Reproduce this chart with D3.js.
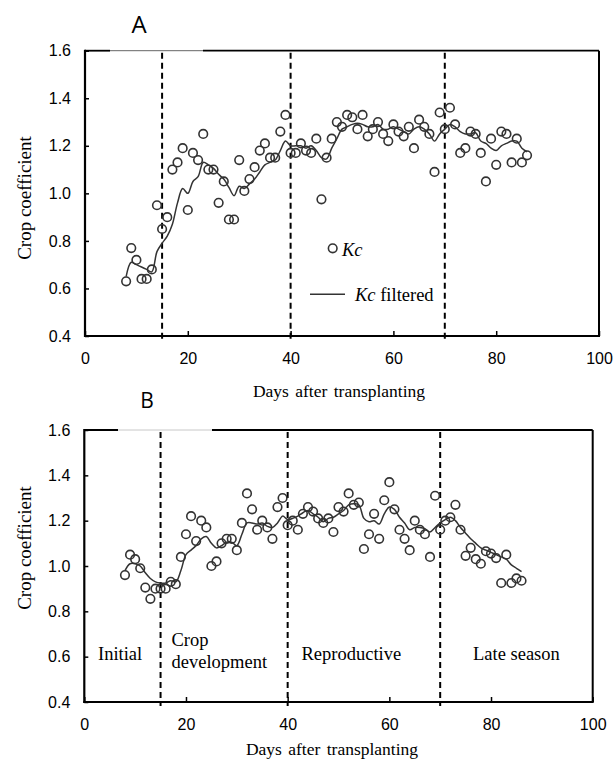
<!DOCTYPE html>
<html>
<head>
<meta charset="utf-8">
<script src="https://cdn.jsdelivr.net/npm/d3@7"></script>
<style>
  body { margin: 0; background: #fff; }
  .tick text { font-family: "Liberation Sans", Arial, sans-serif; font-size: 16px; fill: #000; }
  .serif { font-family: "Liberation Serif", "Times New Roman", serif; fill: #000; }
</style>
</head>
<body>
<div id="chart-container"></div>
<script>
// Days after transplanting (same for both panels)
var days = [8, 9, 10, 11, 12, 13, 14, 15, 16, 17,
            18, 19, 20, 21, 22, 23, 24, 25, 26, 27,
            28, 29, 30, 31, 32, 33, 34, 35, 36, 37,
            38, 39, 40, 41, 42, 43, 44, 45, 46, 47,
            48, 49, 50, 51, 52, 53, 54, 55, 56, 57,
            58, 59, 60, 61, 62, 63, 64, 65, 66, 67,
            68, 69, 70, 71, 72, 73, 74, 75, 76, 77,
            78, 79, 80, 81, 82, 83, 84, 85, 86];

// Panel A
var kcA = [0.63, 0.77, 0.72, 0.64, 0.64, 0.68, 0.95, 0.85, 0.90, 1.10,
           1.13, 1.19, 0.93, 1.17, 1.14, 1.25, 1.10, 1.10, 0.96, 1.05,
           0.89, 0.89, 1.14, 1.01, 1.06, 1.11, 1.18, 1.21, 1.15, 1.15,
           1.26, 1.33, 1.17, 1.17, 1.21, 1.18, 1.17, 1.23, 0.975, 1.15,
           1.23, 1.30, 1.28, 1.33, 1.32, 1.27, 1.33, 1.24, 1.27, 1.30,
           1.25, 1.22, 1.29, 1.26, 1.24, 1.28, 1.19, 1.31, 1.28, 1.25,
           1.09, 1.34, 1.27, 1.36, 1.29, 1.17, 1.19, 1.26, 1.25, 1.17,
           1.05, 1.23, 1.12, 1.26, 1.25, 1.13, 1.23, 1.13, 1.16];
var filtA = [0.65, 0.71, 0.70, 0.69, 0.68, 0.67, 0.755, 0.79, 0.82, 0.87,
             0.96, 1.02, 1.00, 1.05, 1.07, 1.13, 1.12, 1.105, 1.08, 1.06,
             1.025, 0.99, 1.03, 1.02, 1.04, 1.06, 1.09, 1.12, 1.13, 1.14,
             1.18, 1.22, 1.20, 1.20, 1.20, 1.19, 1.20, 1.18, 1.15, 1.145,
             1.19, 1.23, 1.27, 1.28, 1.29, 1.295, 1.29, 1.28, 1.28, 1.29,
             1.27, 1.27, 1.28, 1.27, 1.26, 1.25, 1.27, 1.28, 1.27, 1.25,
             1.22, 1.25, 1.27, 1.29, 1.28, 1.26, 1.25, 1.25, 1.255, 1.22,
             1.21, 1.19, 1.18, 1.20, 1.21, 1.22, 1.22, 1.19, 1.175];

// Panel B
var kcB = [0.96, 1.05, 1.03, 0.99, 0.905, 0.855, 0.90, 0.90, 0.90, 0.93,
           0.92, 1.04, 1.14, 1.22, 1.11, 1.20, 1.17, 1.00, 1.02, 1.10,
           1.12, 1.12, 1.07, 1.19, 1.32, 1.25, 1.16, 1.20, 1.17, 1.12,
           1.26, 1.30, 1.18, 1.20, 1.16, 1.23, 1.26, 1.24, 1.21, 1.19,
           1.21, 1.15, 1.26, 1.24, 1.32, 1.27, 1.28, 1.075, 1.14, 1.23,
           1.12, 1.29, 1.37, 1.25, 1.16, 1.12, 1.07, 1.20, 1.16, 1.14,
           1.04, 1.31, 1.16, 1.20, 1.215, 1.27, 1.16, 1.045, 1.08, 1.03,
           1.01, 1.065, 1.055, 1.035, 0.925, 1.05, 0.925, 0.945, 0.935];
var filtB = [0.98, 1.01, 1.01, 1.00, 0.97, 0.945, 0.93, 0.925, 0.925, 0.935,
             0.93, 0.98, 1.05, 1.07, 1.09, 1.12, 1.13, 1.10, 1.08, 1.09,
             1.105, 1.105, 1.09, 1.14, 1.19, 1.19, 1.185, 1.19, 1.175, 1.17,
             1.19, 1.22, 1.205, 1.21, 1.22, 1.235, 1.245, 1.23, 1.215, 1.195,
             1.21, 1.215, 1.23, 1.245, 1.27, 1.275, 1.27, 1.21, 1.195, 1.20,
             1.185, 1.23, 1.26, 1.25, 1.215, 1.19, 1.16, 1.17, 1.17, 1.165,
             1.15, 1.17, 1.19, 1.205, 1.215, 1.20, 1.17, 1.145, 1.12, 1.10,
             1.08, 1.07, 1.06, 1.05, 1.04, 1.03, 1.005, 0.99, 0.975];

// Growth stage boundaries and axis ticks
var stageBounds = [15, 40, 70];
var xTicks = [0, 20, 40, 60, 80, 100];
var yTicks = [0.4, 0.6, 0.8, 1.0, 1.2, 1.4, 1.6];
var stageNames = ["Initial", "Crop development", "Reproductive", "Late season"];

var svg = d3.select("#chart-container")
            .append("svg")
            .attr("width", 616)
            .attr("height", 760);

function drawPanel(p) {
    var x = d3.scaleLinear().domain([0, 100]).range([p.left, p.right]);
    var y = d3.scaleLinear().domain([0.4, 1.6]).range([p.bottom, p.top]);
    var g = svg.append("g");

    // axes (ticks point inward)
    g.append("g")
     .attr("transform", "translate(" + p.left + ",0)")
     .call(d3.axisLeft(y).tickValues(yTicks).tickFormat(d3.format(".1f"))
             .tickSize(-4).tickPadding(14))
     .call(function(a) { a.select(".domain").remove(); })
     .selectAll("line").attr("stroke", "#000").attr("stroke-width", 1.5);

    g.append("g")
     .attr("transform", "translate(0," + p.bottom + ")")
     .call(d3.axisBottom(x).tickValues(xTicks).tickFormat(d3.format("d"))
             .tickSize(-5).tickPadding(17))
     .call(function(a) { a.select(".domain").remove(); })
     .selectAll("line").attr("stroke", "#000").attr("stroke-width", 1.5);

    // frame
    g.append("line").attr("x1", p.left).attr("x2", p.left).attr("y1", p.top - 1).attr("y2", p.bottom + 1)
     .attr("stroke", "#000").attr("stroke-width", 2.2);
    g.append("line").attr("x1", p.left - 1).attr("x2", p.right + 1).attr("y1", p.bottom).attr("y2", p.bottom)
     .attr("stroke", "#000").attr("stroke-width", 2.2);
    g.append("line").attr("x1", p.right).attr("x2", p.right).attr("y1", p.top).attr("y2", p.bottom)
     .attr("stroke", "#000").attr("stroke-width", 2);
    g.append("line").attr("x1", p.left).attr("x2", p.gap[0]).attr("y1", p.top).attr("y2", p.top)
     .attr("stroke", "#000").attr("stroke-width", 1.8);
    g.append("line").attr("x1", p.gap[0]).attr("x2", p.gap[1]).attr("y1", p.top).attr("y2", p.top)
     .attr("stroke", p.gapColor).attr("stroke-width", 1);
    g.append("line").attr("x1", p.gap[1]).attr("x2", p.right).attr("y1", p.top).attr("y2", p.top)
     .attr("stroke", "#000").attr("stroke-width", 1.8);

    // stage boundaries
    g.selectAll(".stage")
     .data(stageBounds)
     .enter().append("line")
     .attr("x1", function(d) { return x(d); })
     .attr("x2", function(d) { return x(d); })
     .attr("y1", p.top + 2)
     .attr("y2", p.bottom + 4)
     .attr("stroke", "#000")
     .attr("stroke-width", 2)
     .attr("stroke-dasharray", "6,4");

    // filtered line
    var pts = days.map(function(d, i) { return { day: d, kc: p.kc[i], f: p.filt[i] }; });
    var line = d3.line()
                 .x(function(d) { return x(d.day); })
                 .y(function(d) { return y(d.f); })
                 .curve(d3.curveCatmullRom.alpha(0.5));
    g.append("path")
     .datum(pts)
     .attr("fill", "none")
     .attr("stroke", "#333")
     .attr("stroke-width", 1.5)
     .attr("d", line);

    // Kc points
    g.selectAll(".pt")
     .data(pts)
     .enter().append("circle")
     .attr("cx", function(d) { return x(d.day); })
     .attr("cy", function(d) { return y(d.kc); })
     .attr("r", 4.3)
     .attr("fill", "none")
     .attr("stroke", "#333")
     .attr("stroke-width", 1.6);

    // titles
    g.append("text")
     .attr("class", "serif")
     .attr("transform", "translate(" + p.yTitleX + "," + p.yTitleY + ") rotate(-90)")
     .attr("text-anchor", "middle")
     .style("font-size", "19px")
     .text("Crop coefficient");

    g.append("text")
     .attr("class", "serif")
     .attr("x", p.xTitleX)
     .attr("y", p.xTitleY)
     .attr("text-anchor", "middle")
     .style("font-size", "17.5px")
     .style("word-spacing", "2px")
     .text("Days after transplanting");

    g.append("text")
     .attr("x", p.letterX)
     .attr("y", p.letterY)
     .attr("text-anchor", "middle")
     .style("font-family", "'Open Sans', 'Liberation Sans', sans-serif")
     .style("font-size", p.letterSize)
     .text(p.letter);

    return { g: g, x: x, y: y };
}

var A = drawPanel({
    left: 85, right: 599, top: 50.7, bottom: 336,
    gap: [110, 203], gapColor: "#666",
    kc: kcA, filt: filtA,
    yTitleX: 31, yTitleY: 198,
    xTitleX: 339, xTitleY: 397,
    letter: "A", letterX: 139, letterY: 33, letterSize: "24px"
});

var B = drawPanel({
    left: 84.3, right: 592.7, top: 430, bottom: 702,
    gap: [118, 212], gapColor: "#c8c8c8",
    kc: kcB, filt: filtB,
    yTitleX: 31, yTitleY: 548,
    xTitleX: 332, xTitleY: 755,
    letter: "B", letterX: 147, letterY: 408, letterSize: "21px"
});

// legend (panel A)
A.g.append("circle")
   .attr("cx", 332.7).attr("cy", 248.3).attr("r", 4.3)
   .attr("fill", "none").attr("stroke", "#333").attr("stroke-width", 1.6);
A.g.append("text")
   .attr("class", "serif")
   .attr("x", 342).attr("y", 256)
   .style("font-size", "18.5px").style("font-style", "italic")
   .text("Kc");
A.g.append("line")
   .attr("x1", 310).attr("x2", 345).attr("y1", 294.3).attr("y2", 294.3)
   .attr("stroke", "#333").attr("stroke-width", 1.5);
var lt = A.g.append("text")
   .attr("class", "serif")
   .attr("x", 355).attr("y", 301)
   .style("font-size", "18.5px");
lt.append("tspan").style("font-style", "italic").text("Kc");
lt.append("tspan").text(" filtered");

// growth stage labels (panel B)
var stageText = B.g.append("g").attr("class", "serif").style("font-size", "18.5px");
stageText.append("text").attr("x", 98).attr("y", 660).text(stageNames[0]);
stageText.append("text").attr("x", 171.5).attr("y", 646).text(stageNames[1].split(" ")[0]);
stageText.append("text").attr("x", 171.5).attr("y", 668).text(stageNames[1].split(" ")[1]);
stageText.append("text").attr("x", 301.5).attr("y", 660).text(stageNames[2]);
stageText.append("text").attr("x", 473).attr("y", 660).text(stageNames[3]);
</script>
</body>
</html>
